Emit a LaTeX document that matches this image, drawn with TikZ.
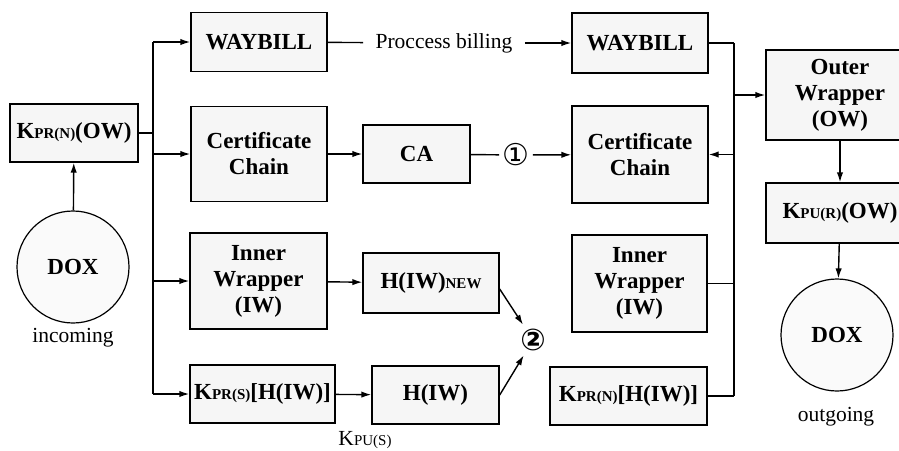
\documentclass[tikz,border=0pt]{standalone}
\usepackage{fontspec}
\setmainfont{Liberation Serif}
\newfontfamily\symfont{DejaVu Sans}
\usetikzlibrary{arrows.meta,positioning,calc}
\newcommand{\kidx}[1]{{\fontsize{7.5}{8}\selectfont #1}}

\begin{document}
\begin{tikzpicture}[x=0.5pt,y=-0.5pt, every node/.style={font=\fontsize{11.5}{13}\selectfont\bfseries}, box/.style={draw,line width=0.7pt,fill=gray!7,align=center,inner sep=0pt}, dox/.style={draw,circle,line width=0.6pt,fill=gray!4,minimum size=56pt,inner sep=0pt}, arr/.style={-{Latex[length=5pt,width=3.2pt]},line width=0.7pt}, plain/.style={font=\fontsize{10.75}{12}\selectfont}, lnk/.style={line width=0.7pt}]
\useasboundingbox (0,0) rectangle (899,450);
\clip (0,0) rectangle (899,450);
\node[box,minimum width=64pt,minimum height=29pt] (kin) at (74,133) {K\kidx{PR(N)}(OW)};
\node[dox] (doxin) at (73,267) {DOX};
\node[plain] (inc) at (73,338) {incoming};
\node[box,minimum width=68pt,minimum height=29.5pt] (wb1) at (259,42) {WAYBILL};
\node[box,minimum width=68pt,minimum height=47.5pt] (cc1) at (259,154) {Certificate\\Chain};
\node[box,minimum width=68.5pt,minimum height=48pt] (iw1) at (258.5,281) {Inner\\Wrapper\\(IW)};
\node[box,minimum width=72.5pt,minimum height=29pt] (ks) at (262.5,394) {K\kidx{PR(S)}[H(IW)]};
\node[box,minimum width=53.5pt,minimum height=29pt] (ca) at (416.5,154) {CA};
\node[box,minimum width=68pt,minimum height=30pt] (hnew) at (431,283) {H(IW)\kidx{NEW}};
\node[box,minimum width=63.5pt,minimum height=29pt] (hiw) at (435.5,395) {H(IW)};
\node[plain] (kpus) at (365,440) {K\kidx{PU(S)}};
\node[plain,inner sep=6pt] (bill) at (444,43) {Proccess billing};
\node[font=\fontsize{15}{15}\selectfont\symfont,inner sep=1.5pt] (one) at (516,155) {①};
\node[font=\fontsize{15}{15}\selectfont\symfont\bfseries,inner sep=2pt] (two) at (533,340) {②};
\node[box,minimum width=68pt,minimum height=30pt] (wb2) at (640,43) {WAYBILL};
\node[box,minimum width=68pt,minimum height=48.5pt] (cc2) at (640,154.5) {Certificate\\Chain};
\node[box,minimum width=67.5pt,minimum height=48.5pt] (iw2) at (639.5,283.5) {Inner\\Wrapper\\(IW)};
\node[box,minimum width=78.5pt,minimum height=29pt] (kn) at (628.5,396) {K\kidx{PR(N)}[H(IW)]};
\node[box,minimum width=74pt,minimum height=45pt] (ow) at (840,95) {Outer\\Wrapper\\(OW)};
\node[box,minimum width=74pt,minimum height=30pt] (kr) at (840,213) {K\kidx{PU(R)}(OW)};
\node[dox] (doxout) at (837,335) {DOX};
\node[plain] (outg) at (836,417) {outgoing};
\coordinate (split) at (153,133);
\coordinate (merge) at (734,95);
\draw[arr] (doxin) -- (kin);
\draw[lnk] (kin) -- (split);
\draw[lnk] (split |- wb1) -- (split |- ks);
\draw[arr] (split |- wb1) -- (wb1);
\draw[arr] (split |- cc1) -- (cc1);
\draw[arr] (split |- iw1) -- (iw1);
\draw[arr] (split |- ks) -- (ks);
\draw[lnk] (wb1) -- (bill);
\draw[arr] (bill) -- (wb2);
\draw[arr] (cc1) -- (ca);
\draw[lnk] (ca) -- (one);
\draw[arr] (one) -- (cc2);
\draw[arr] (iw1) -- (hnew);
\draw[arr] (ks) -- (hiw);
\draw[arr] ($(hnew.east)+(0,6)$) -- (two);
\draw[arr] (hiw.east) -- (two);
\draw[lnk] (wb2) -- (merge |- wb2);
\draw[lnk] (merge |- wb2) -- (merge |- kn);
\draw[arr] (merge |- cc2) -- (cc2);
\draw[lnk] (iw2) -- (merge |- iw2);
\draw[lnk] (kn) -- (merge |- kn);
\draw[arr] (merge) -- (ow);
\draw[arr] (ow) -- (kr);
\draw[arr] (kr) -- (doxout);
\end{tikzpicture}
\end{document}
